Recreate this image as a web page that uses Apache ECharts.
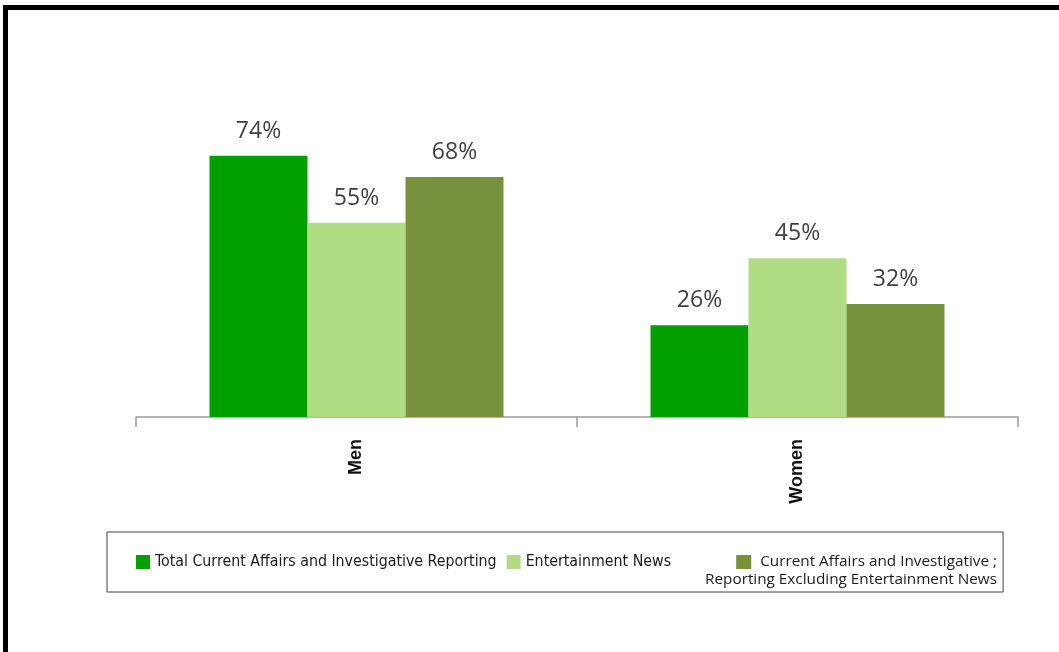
<!DOCTYPE html>
<html>
<head>
<meta charset="utf-8">
<script src="https://cdn.jsdelivr.net/npm/echarts@6/dist/echarts.min.js"></script>
<style>
  html, body { margin: 0; padding: 0; background: #fff; }
  #frame {
    position: absolute; left: 3px; top: 5px; width: 1100px; height: 700px;
    border-left: 5px solid #000; border-top: 5px solid #000;
  }
  #chart { position: absolute; left: 0; top: 0; width: 1059px; height: 652px; }
</style>
</head>
<body>
<div id="frame"></div>
<div id="chart"></div>
<script>
// data
const categories = ['Men', 'Women']
const seriesNames = [
  'Total Current Affairs and Investigative Reporting',
  'Entertainment News',
  'Current Affairs and Investigative ; Reporting Excluding Entertainment News'
]
const totalCurrent = [74, 26]
const entertainment = [55, 45]
const excludingEnt = [68, 32]
const colors = ['#00a000', '#b0dc84', '#77913c']

const chart = echarts.init(document.getElementById('chart'))

const legendFont = '"Liberation Sans Narrow", "DejaVu Sans Condensed", sans-serif'
const wideFont = '"Open Sans", sans-serif'

const makeSeries = (name, data, color) => ({
  name: name,
  type: 'bar',
  data: data,
  barWidth: 98,
  barGap: '0%',
  itemStyle: { color: color },
  label: {
    show: true,
    position: 'top',
    distance: 13,
    formatter: '{c}%',
    fontFamily: '"Open Sans", sans-serif',
    fontSize: 23,
    color: '#404040'
  }
})

chart.setOption({
  animation: false,
  grid: { left: 136, right: 41, top: 64, bottom: 235 },
  xAxis: {
    type: 'category',
    data: categories,
    axisLine: { lineStyle: { color: '#9a9a9a', width: 1.5 } },
    axisTick: { show: true, length: 10, lineStyle: { color: '#9a9a9a', width: 1.5 } },
    axisLabel: {
      rotate: 90,
      margin: 22,
      fontFamily: '"Liberation Sans", Arial, sans-serif',
      fontSize: 18,
      fontWeight: 'bold',
      color: '#111'
    }
  },
  yAxis: { type: 'value', min: 0, max: 100, show: false },
  legend: [{
    // box + first two items
    data: [seriesNames[0], seriesNames[1]],
    left: 107,
    top: 532,
    padding: [21, 332, 21, 29],
    itemWidth: 14,
    itemHeight: 14,
    itemGap: 10,
    borderColor: '#444',
    borderWidth: 1,
    selectedMode: false,
    icon: 'rect',
    textStyle: { fontFamily: legendFont, fontSize: 15.8, lineHeight: 18, color: '#1a1a1a' }
  }, {
    // two-line item, right aligned, square drawn as a rich token
    data: [seriesNames[2]],
    right: 62,
    top: 553,
    padding: 0,
    itemWidth: 0,
    itemHeight: 14,
    icon: 'none',
    selectedMode: false,
    formatter: function (name) {
      const parts = name.split(' ; ')
      return '{sq|}{t1|' + parts[0] + ' ;}\n{t2|' + parts[1] + '}'
    },
    textStyle: {
      fontFamily: wideFont,
      fontSize: 15.3,
      lineHeight: 18,
      color: '#1a1a1a',
      rich: {
        sq: { align: 'right', width: 15, height: 14, backgroundColor: colors[2] },
        t1: { align: 'right', padding: [0, 0, 0, 9], fontFamily: wideFont, fontSize: 15.3, lineHeight: 18, color: '#1a1a1a' },
        t2: { align: 'right', fontFamily: wideFont, fontSize: 15.3, lineHeight: 18, color: '#1a1a1a' }
      }
    }
  }],
  series: [
    makeSeries(seriesNames[0], totalCurrent, colors[0]),
    makeSeries(seriesNames[1], entertainment, colors[1]),
    makeSeries(seriesNames[2], excludingEnt, colors[2])
  ]
})
</script>
</body>
</html>
